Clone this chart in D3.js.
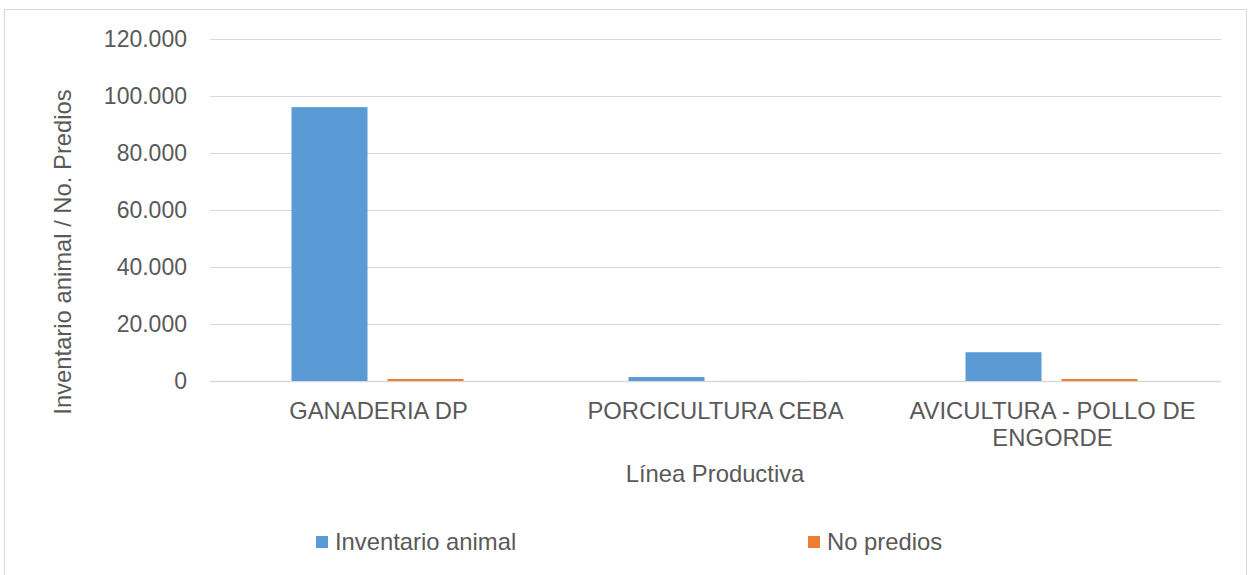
<!DOCTYPE html>
<html>
<head>
<meta charset="utf-8">
<script src="https://cdn.jsdelivr.net/npm/d3@7"></script>
<style>
  body { margin: 0; background: #fff; }
  svg text { font-family: "Liberation Sans", Arial, sans-serif; fill: #595959; }
</style>
</head>
<body>
<svg id="svg" width="1249" height="575"></svg>
<script>
const categories = ['GANADERIA DP', 'PORCICULTURA CEBA', 'AVICULTURA - POLLO DE ENGORDE']
const categoryLines = [['GANADERIA DP'], ['PORCICULTURA CEBA'], ['AVICULTURA - POLLO DE', 'ENGORDE']]
const seriesNames = ['Inventario animal', 'No predios']
const inventario = [96100, 1400, 10100]
const predios = [700, 10, 700]
const yTicks = [0, 20000, 40000, 60000, 80000, 100000, 120000]
const colors = ['#5B9BD5', '#ED7D31']

const width = 1249
const height = 575
const margin = { top: 39, right: 28, bottom: 194, left: 210 }
const labelSize = 23.8
const svg = d3.select('#svg')

// outer border
svg.append('rect')
    .attr('x', 4.5).attr('y', 9.5)
    .attr('width', width - 7).attr('height', height)
    .attr('fill', 'none').attr('stroke', '#d9d9d9')

const yScale = d3.scaleLinear()
    .domain([0, 120000])
    .range([height - margin.bottom, margin.top])

const xScale = d3.scaleBand()
    .domain(categories)
    .range([margin.left, width - margin.right])

const fmt = d => d3.format(',')(d).replace(/,/g, '.')

// gridlines
svg.append('g')
    .selectAll('line')
    .data(yTicks)
    .join('line')
    .attr('x1', margin.left).attr('x2', width - margin.right)
    .attr('y1', d => Math.round(yScale(d)) + 0.5)
    .attr('y2', d => Math.round(yScale(d)) + 0.5)
    .attr('stroke', '#d9d9d9')
    .attr('stroke-width', d => d === 0 ? 1.5 : 1)

// y tick labels
svg.append('g')
    .selectAll('text')
    .data(yTicks)
    .join('text')
    .attr('x', 187)
    .attr('y', d => yScale(d) + 8)
    .attr('text-anchor', 'end')
    .attr('font-size', 23)
    .text(d => fmt(d))

// bars
const barW = 76
const gap = 20
const series = [inventario, predios]
series.forEach((vals, si) => {
    svg.append('g')
        .selectAll('rect')
        .data(vals)
        .join('rect')
        .attr('x', (d, i) => xScale(categories[i]) + xScale.bandwidth() / 2 - barW - gap / 2 + si * (barW + gap) - 1)
        .attr('y', d => yScale(d))
        .attr('width', barW)
        .attr('height', d => yScale(0) - yScale(d))
        .attr('fill', colors[si])
})

// category labels
categoryLines.forEach((lines, i) => {
    svg.append('text')
        .attr('x', xScale(categories[i]) + xScale.bandwidth() / 2)
        .attr('y', 419)
        .attr('text-anchor', 'middle')
        .attr('font-size', labelSize)
        .selectAll('tspan')
        .data(lines)
        .join('tspan')
        .attr('x', xScale(categories[i]) + xScale.bandwidth() / 2)
        .attr('dy', (d, j) => j === 0 ? 0 : 27)
        .text(d => d)
})

// axis titles
svg.append('text')
    .attr('x', 715)
    .attr('y', 482)
    .attr('text-anchor', 'middle')
    .attr('font-size', labelSize)
    .text('Línea Productiva')

svg.append('text')
    .attr('transform', `translate(71,252) rotate(-90)`)
    .attr('text-anchor', 'middle')
    .attr('font-size', labelSize)
    .text('Inventario animal / No. Predios')

// legend
const legendX = [316, 808]
seriesNames.forEach((name, i) => {
    svg.append('rect')
        .attr('x', legendX[i]).attr('y', 536)
        .attr('width', 12).attr('height', 12)
        .attr('fill', colors[i])
    svg.append('text')
        .attr('x', legendX[i] + 19)
        .attr('y', 550)
        .attr('font-size', labelSize)
        .text(name)
})
</script>
</body>
</html>
